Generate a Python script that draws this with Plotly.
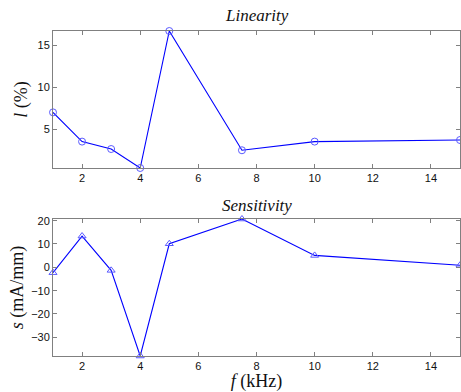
import plotly.graph_objects as go
from plotly.subplots import make_subplots

freq_khz = [1, 2, 3, 4, 5, 7.5, 10, 15]
linearity_pct = [7.05, 3.58, 2.7, 0.45, 16.7, 2.55, 3.58, 3.77]
sensitivity_ma_mm = [-2.3, 13.4, -1.3, -38.0, 10.1, 20.7, 5.1, 0.9]
x_ticks = [2, 4, 6, 8, 10, 12, 14]
lin_ticks = [5, 10, 15]
sens_ticks = [-30, -20, -10, 0, 10, 20]

fig = make_subplots(rows=2, cols=1)
blue = "rgb(0,0,255)"
fig.add_trace(go.Scatter(x=freq_khz, y=linearity_pct, mode="lines+markers",
                         line=dict(color=blue, width=1.1),
                         marker=dict(symbol="circle-open", size=7, color="rgb(90,90,255)", line=dict(width=1)),
                         cliponaxis=False, showlegend=False), row=1, col=1)
fig.add_trace(go.Scatter(x=freq_khz, y=sensitivity_ma_mm, mode="lines+markers",
                         line=dict(color=blue, width=1.1),
                         marker=dict(symbol="triangle-up-open", size=7, color="rgb(90,90,255)", line=dict(width=1)),
                         cliponaxis=False, showlegend=False), row=2, col=1)

axis_common = dict(showline=True, linecolor="rgb(128,128,128)", linewidth=1, mirror="ticks",
                   ticks="inside", ticklen=4, tickcolor="rgb(128,128,128)", showgrid=False,
                   zeroline=False, tickfont=dict(family="Liberation Sans", size=11, color="#111"))

fig.update_xaxes(range=[1, 15], tickvals=x_ticks, **axis_common)
fig.update_yaxes(**axis_common)
fig.update_xaxes(domain=[0, 1], row=1, col=1)
fig.update_xaxes(domain=[0, 1], row=2, col=1,
                 title=dict(text="<i>f</i> (kHz)", font=dict(family="Liberation Serif", size=18, color="#111"), standoff=4))
fig.update_yaxes(domain=[0.5785, 1], range=[0.45, 16.7], tickvals=lin_ticks, row=1, col=1,
                 title=dict(text="<i>l</i> (%)", font=dict(family="Liberation Serif", size=18, color="#111"), standoff=5))
fig.update_yaxes(domain=[0, 0.4215], range=[-38.0, 20.7], tickvals=sens_ticks, row=2, col=1,
                 title=dict(text="<i>s</i> (mA/mm)", font=dict(family="Liberation Serif", size=18, color="#111"), standoff=2))

fig.add_annotation(text="<i>Linearity</i>", xref="paper", yref="paper", x=0.5, y=1, yshift=4,
                   yanchor="bottom", showarrow=False,
                   font=dict(family="Liberation Serif", size=17, color="#111"))
fig.add_annotation(text="<i>Sensitivity</i>", xref="paper", yref="paper", x=0.5, y=0.4215, yshift=2,
                   yanchor="bottom", showarrow=False,
                   font=dict(family="Liberation Serif", size=17, color="#111"))

fig.update_layout(width=461, height=392, margin=dict(l=53, r=1, t=31, b=36),
                  paper_bgcolor="white", plot_bgcolor="white")
fig.write_html("out.html", config={"displayModeBar": False},
               post_script="document.body.style.margin='0';document.body.style.overflow='hidden';")
